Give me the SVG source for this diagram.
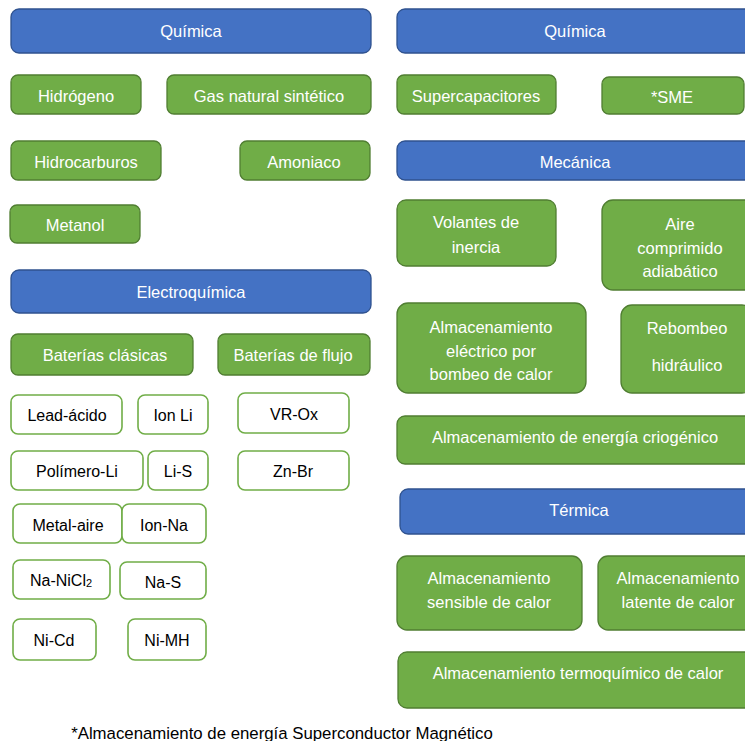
<svg xmlns="http://www.w3.org/2000/svg" width="745" height="741" viewBox="0 0 745 741">
<style>
.cat{fill:#4472C4;stroke:#2F528F;stroke-width:1.3}
.grn{fill:#70AD47;stroke:#507E32;stroke-width:1.3}
.wht{fill:#FFFFFF;stroke:#70AD47;stroke-width:1.6}
text{font-family:"Liberation Sans",Arial,sans-serif;font-size:16.5px;text-anchor:middle;dominant-baseline:central}
.w{fill:#FFFFFF}
.k{fill:#000000}
.s{font-size:16px}
.fn{font-size:16.8px}
</style>
<rect width="745" height="741" fill="#FFFFFF"/>
<g id="connectors"/>
<!-- Left column -->
<g id="quimica-l"><rect class="cat" x="11" y="9" width="360" height="44" rx="8"/><text class="w" x="191" y="31">Química</text></g>
<g id="hidrogeno"><rect class="grn" x="11" y="75" width="130" height="39" rx="7"/><text class="w" x="76" y="95.5">Hidrógeno</text></g>
<g id="gas-natural"><rect class="grn" x="167" y="75" width="204" height="39" rx="7"/><text class="w" x="269" y="95.5">Gas natural sintético</text></g>
<g id="hidrocarburos"><rect class="grn" x="11" y="141" width="150" height="39" rx="7"/><text class="w" x="86" y="161.5">Hidrocarburos</text></g>
<g id="amoniaco"><rect class="grn" x="240" y="141" width="130" height="39" rx="7"/><text class="w" x="304" y="161.5">Amoniaco</text></g>
<g id="metanol"><rect class="grn" x="10" y="205" width="130" height="38" rx="7"/><text class="w" x="75" y="225">Metanol</text></g>
<g id="electroquimica"><rect class="cat" x="11" y="270" width="360" height="43" rx="8"/><text class="w" x="191" y="291.5">Electroquímica</text></g>
<g id="baterias-clasicas"><rect class="grn" x="11" y="334" width="182" height="41" rx="7"/><text class="w" x="105" y="354.5">Baterías clásicas</text></g>
<g id="baterias-flujo"><rect class="grn" x="218" y="334" width="152" height="41" rx="7"/><text class="w" x="293" y="354.5">Baterías de flujo</text></g>
<g id="lead-acido"><rect class="wht" x="11" y="395" width="111" height="39" rx="7"/><text class="k s" x="67" y="415.5">Lead-ácido</text></g>
<g id="ion-li"><rect class="wht" x="138" y="395" width="70" height="39" rx="7"/><text class="k s" x="173" y="415">Ion Li</text></g>
<g id="vr-ox"><rect class="wht" x="238" y="393" width="111" height="40" rx="7"/><text class="k s" x="294" y="414">VR-Ox</text></g>
<g id="polimero-li"><rect class="wht" x="11" y="451" width="132" height="39" rx="7"/><text class="k s" x="77" y="471">Polímero-Li</text></g>
<g id="li-s"><rect class="wht" x="148" y="451" width="60" height="39" rx="7"/><text class="k s" x="178" y="471">Li-S</text></g>
<g id="zn-br"><rect class="wht" x="238" y="451" width="111" height="39" rx="7"/><text class="k s" x="293" y="471">Zn-Br</text></g>
<g id="metal-aire"><rect class="wht" x="13" y="504" width="109" height="39" rx="7"/><text class="k s" x="68" y="525">Metal-aire</text></g>
<g id="ion-na"><rect class="wht" x="122" y="504" width="84" height="39" rx="7"/><text class="k s" x="164" y="525">Ion-Na</text></g>
<g id="na-nicl2"><rect class="wht" x="13" y="560" width="97" height="39" rx="7"/><text class="k s" x="61" y="580">Na-NiCl<tspan font-size="11" dy="3">2</tspan></text></g>
<g id="na-s"><rect class="wht" x="120" y="562" width="86" height="37" rx="7"/><text class="k s" x="163" y="582">Na-S</text></g>
<g id="ni-cd"><rect class="wht" x="13" y="619" width="83" height="41" rx="7"/><text class="k s" x="54" y="640">Ni-Cd</text></g>
<g id="ni-mh"><rect class="wht" x="128" y="619" width="78" height="41" rx="7"/><text class="k s" x="167" y="640">Ni-MH</text></g>
<!-- Right column -->
<g id="quimica-r"><rect class="cat" x="397" y="9" width="356" height="44" rx="8"/><text class="w" x="575" y="31">Química</text></g>
<g id="supercapacitores"><rect class="grn" x="397" y="75" width="159" height="39" rx="7"/><text class="w" x="476" y="95.5">Supercapacitores</text></g>
<g id="sme"><rect class="grn" x="602" y="77" width="142" height="37" rx="7"/><text class="w" x="672" y="97">*SME</text></g>
<g id="mecanica"><rect class="cat" x="397" y="141" width="356" height="39" rx="8"/><text class="w" x="575" y="161.5">Mecánica</text></g>
<g id="volantes"><rect class="grn" x="397" y="200" width="159" height="66" rx="9"/><text class="w" x="476" y="222">Volantes de</text><text class="w" x="476" y="246.5">inercia</text></g>
<g id="aire-comprimido"><rect class="grn" x="602" y="200" width="155" height="90" rx="11"/><text class="w" x="680" y="224">Aire</text><text class="w" x="680" y="248">comprimido</text><text class="w" x="680" y="271">adiabático</text></g>
<g id="bombeo-calor"><rect class="grn" x="397" y="303" width="189" height="90" rx="11"/><text class="w" x="491" y="327">Almacenamiento</text><text class="w" x="491" y="351">eléctrico por</text><text class="w" x="491" y="374">bombeo de calor</text></g>
<g id="rebombeo"><rect class="grn" x="621" y="305" width="132" height="88" rx="11"/><text class="w" x="687" y="328">Rebombeo</text><text class="w" x="687" y="365">hidráulico</text></g>
<g id="criogenico"><rect class="grn" x="397" y="416" width="356" height="48" rx="8"/><text class="w" x="575" y="437">Almacenamiento de energía criogénico</text></g>
<g id="termica"><rect class="cat" x="400" y="489" width="358" height="45" rx="8"/><text class="w" x="579" y="510">Térmica</text></g>
<g id="sensible"><rect class="grn" x="397" y="556" width="185" height="74" rx="10"/><text class="w" x="489" y="578">Almacenamiento</text><text class="w" x="489" y="602">sensible de calor</text></g>
<g id="latente"><rect class="grn" x="598" y="556" width="160" height="74" rx="10"/><text class="w" x="678" y="578">Almacenamiento</text><text class="w" x="678" y="602">latente de calor</text></g>
<g id="termoquimico"><rect class="grn" x="398" y="652" width="361" height="56" rx="9"/><text class="w" x="578" y="673">Almacenamiento termoquímico de calor</text></g>
<text class="k fn" x="282" y="733">*Almacenamiento de energía Superconductor Magnético</text>
</svg>
